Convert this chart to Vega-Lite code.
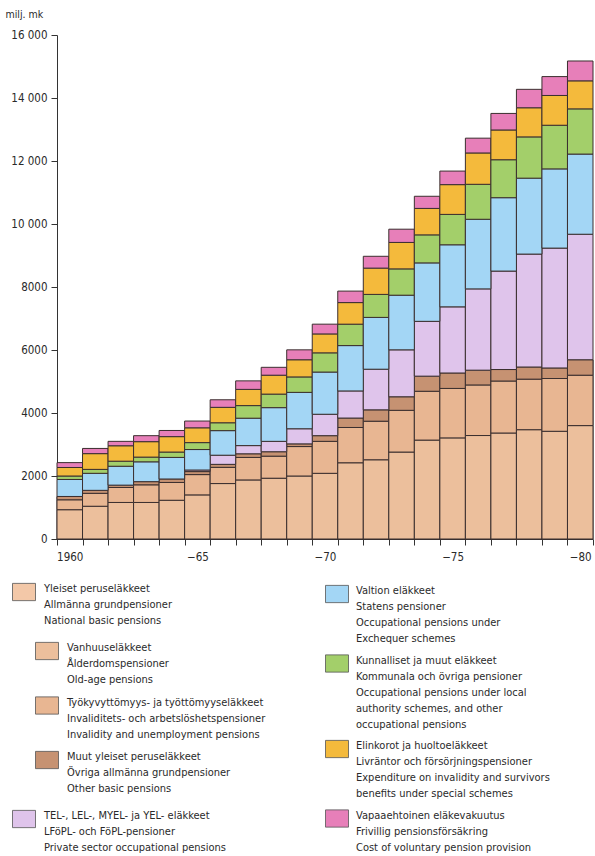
{
  "$schema": "https://vega.github.io/schema/vega-lite/v6.json",
  "width": 536,
  "height": 504,
  "autosize": {"type": "none"},
  "padding": {"left": 57, "top": 35, "right": 2, "bottom": 317},
  "background": "white",
  "config": {
    "font": "DejaVu Sans Condensed, sans-serif",
    "view": {"stroke": null},
    "style": {"guide-label": {"lineHeight": 16}},
    "legend": {
      "title": null,
      "padding": 0,
      "symbolType": "M-1,-0.75H1V0.75H-1Z",
      "symbolSize": 529,
      "symbolStrokeColor": "#555",
      "symbolStrokeWidth": 0.8,
      "symbolOpacity": 1,
      "labelFont": "DejaVu Sans Condensed, sans-serif",
      "labelFontSize": 11,
      "labelColor": "#2a2a2a",
      "labelLimit": 400,
      "labelOffset": 8,
      "labelBaseline": "alphabetic",
      "rowPadding": 8.5
    }
  },
  "data": {"values": [
    {"y":1960,"c":"a","v":930},{"y":1960,"c":"b","v":315},{"y":1960,"c":"c","v":105},{"y":1960,"c":"e","v":540},{"y":1960,"c":"f","v":110},{"y":1960,"c":"g","v":270},{"y":1960,"c":"h","v":155},
    {"y":1961,"c":"a","v":1040},{"y":1961,"c":"b","v":410},{"y":1961,"c":"c","v":95},{"y":1961,"c":"e","v":540},{"y":1961,"c":"f","v":125},{"y":1961,"c":"g","v":500},{"y":1961,"c":"h","v":165},
    {"y":1962,"c":"a","v":1160},{"y":1962,"c":"b","v":475},{"y":1962,"c":"c","v":75},{"y":1962,"c":"e","v":600},{"y":1962,"c":"f","v":160},{"y":1962,"c":"g","v":490},{"y":1962,"c":"h","v":140},
    {"y":1963,"c":"a","v":1160},{"y":1963,"c":"b","v":560},{"y":1963,"c":"c","v":100},{"y":1963,"c":"e","v":630},{"y":1963,"c":"f","v":150},{"y":1963,"c":"g","v":490},{"y":1963,"c":"h","v":190},
    {"y":1964,"c":"a","v":1230},{"y":1964,"c":"b","v":565},{"y":1964,"c":"c","v":110},{"y":1964,"c":"e","v":685},{"y":1964,"c":"f","v":170},{"y":1964,"c":"g","v":490},{"y":1964,"c":"h","v":195},
    {"y":1965,"c":"a","v":1400},{"y":1965,"c":"b","v":645},{"y":1965,"c":"c","v":95},{"y":1965,"c":"d","v":50},{"y":1965,"c":"e","v":650},{"y":1965,"c":"f","v":220},{"y":1965,"c":"g","v":470},{"y":1965,"c":"h","v":215},
    {"y":1966,"c":"a","v":1760},{"y":1966,"c":"b","v":515},{"y":1966,"c":"c","v":95},{"y":1966,"c":"d","v":290},{"y":1966,"c":"e","v":780},{"y":1966,"c":"f","v":250},{"y":1966,"c":"g","v":490},{"y":1966,"c":"h","v":240},
    {"y":1967,"c":"a","v":1875},{"y":1967,"c":"b","v":715},{"y":1967,"c":"c","v":115},{"y":1967,"c":"d","v":260},{"y":1967,"c":"e","v":870},{"y":1967,"c":"f","v":400},{"y":1967,"c":"g","v":515},{"y":1967,"c":"h","v":270},
    {"y":1968,"c":"a","v":1930},{"y":1968,"c":"b","v":700},{"y":1968,"c":"c","v":140},{"y":1968,"c":"d","v":330},{"y":1968,"c":"e","v":1070},{"y":1968,"c":"f","v":430},{"y":1968,"c":"g","v":600},{"y":1968,"c":"h","v":250},
    {"y":1969,"c":"a","v":2000},{"y":1969,"c":"b","v":935},{"y":1969,"c":"c","v":85},{"y":1969,"c":"d","v":480},{"y":1969,"c":"e","v":1155},{"y":1969,"c":"f","v":490},{"y":1969,"c":"g","v":545},{"y":1969,"c":"h","v":315},
    {"y":1970,"c":"a","v":2085},{"y":1970,"c":"b","v":1015},{"y":1970,"c":"c","v":180},{"y":1970,"c":"d","v":680},{"y":1970,"c":"e","v":1340},{"y":1970,"c":"f","v":610},{"y":1970,"c":"g","v":600},{"y":1970,"c":"h","v":310},
    {"y":1971,"c":"a","v":2420},{"y":1971,"c":"b","v":1120},{"y":1971,"c":"c","v":300},{"y":1971,"c":"d","v":860},{"y":1971,"c":"e","v":1440},{"y":1971,"c":"f","v":680},{"y":1971,"c":"g","v":685},{"y":1971,"c":"h","v":365},
    {"y":1972,"c":"a","v":2515},{"y":1972,"c":"b","v":1225},{"y":1972,"c":"c","v":360},{"y":1972,"c":"d","v":1290},{"y":1972,"c":"e","v":1645},{"y":1972,"c":"f","v":730},{"y":1972,"c":"g","v":835},{"y":1972,"c":"h","v":375},
    {"y":1973,"c":"a","v":2760},{"y":1973,"c":"b","v":1325},{"y":1973,"c":"c","v":430},{"y":1973,"c":"d","v":1490},{"y":1973,"c":"e","v":1735},{"y":1973,"c":"f","v":835},{"y":1973,"c":"g","v":840},{"y":1973,"c":"h","v":420},
    {"y":1974,"c":"a","v":3140},{"y":1974,"c":"b","v":1550},{"y":1974,"c":"c","v":480},{"y":1974,"c":"d","v":1740},{"y":1974,"c":"e","v":1855},{"y":1974,"c":"f","v":890},{"y":1974,"c":"g","v":840},{"y":1974,"c":"h","v":385},
    {"y":1975,"c":"a","v":3210},{"y":1975,"c":"b","v":1570},{"y":1975,"c":"c","v":490},{"y":1975,"c":"d","v":2100},{"y":1975,"c":"e","v":1970},{"y":1975,"c":"f","v":965},{"y":1975,"c":"g","v":945},{"y":1975,"c":"h","v":430},
    {"y":1976,"c":"a","v":3285},{"y":1976,"c":"b","v":1605},{"y":1976,"c":"c","v":470},{"y":1976,"c":"d","v":2580},{"y":1976,"c":"e","v":2210},{"y":1976,"c":"f","v":1110},{"y":1976,"c":"g","v":995},{"y":1976,"c":"h","v":470},
    {"y":1977,"c":"a","v":3365},{"y":1977,"c":"b","v":1650},{"y":1977,"c":"c","v":365},{"y":1977,"c":"d","v":3125},{"y":1977,"c":"e","v":2330},{"y":1977,"c":"f","v":1205},{"y":1977,"c":"g","v":945},{"y":1977,"c":"h","v":525},
    {"y":1978,"c":"a","v":3470},{"y":1978,"c":"b","v":1605},{"y":1978,"c":"c","v":385},{"y":1978,"c":"d","v":3585},{"y":1978,"c":"e","v":2410},{"y":1978,"c":"f","v":1310},{"y":1978,"c":"g","v":925},{"y":1978,"c":"h","v":585},
    {"y":1979,"c":"a","v":3420},{"y":1979,"c":"b","v":1675},{"y":1979,"c":"c","v":335},{"y":1979,"c":"d","v":3805},{"y":1979,"c":"e","v":2515},{"y":1979,"c":"f","v":1385},{"y":1979,"c":"g","v":945},{"y":1979,"c":"h","v":600},
    {"y":1980,"c":"a","v":3600},{"y":1980,"c":"b","v":1600},{"y":1980,"c":"c","v":490},{"y":1980,"c":"d","v":3985},{"y":1980,"c":"e","v":2545},{"y":1980,"c":"f","v":1435},{"y":1980,"c":"g","v":890},{"y":1980,"c":"h","v":630}
  ]},
  "transform": [
    {"stack": "v", "groupby": ["y"], "sort": [{"field": "c", "order": "ascending"}], "as": ["v0", "v1"]}
  ],
  "encoding": {
    "x": {
      "field": "y", "type": "ordinal",
      "scale": {"paddingInner": 0, "paddingOuter": 0},
      "axis": {
        "title": null,
        "tickBand": "extent",
        "tickSize": 6,
        "labelAngle": 0,
        "labelPadding": 6,
        "labelFontSize": 11.5,
        "labelColor": "#2a2a2a",
        "labelOverlap": false,
        "labelExpr": "datum.value == 1960 ? '1960' : (datum.value % 5 == 0 ? '\u2212' + (datum.value - 1900) : '')",
        "domainColor": "#333",
        "tickColor": "#333"
      }
    },
    "y": {
      "field": "v0", "type": "quantitative",
      "scale": {"domain": [0, 16000], "nice": false},
      "axis": {
        "title": "milj. mk",
        "titleAngle": 0,
        "titleX": -52,
        "titleY": -21,
        "titleAlign": "left",
        "titleBaseline": "middle",
        "titleFontWeight": "normal",
        "titleFontSize": 10.5,
        "titleColor": "#2a2a2a",
        "values": [0, 2000, 4000, 6000, 8000, 10000, 12000, 14000, 16000],
        "grid": false,
        "tickSize": 6,
        "labelPadding": 4,
        "labelFontSize": 11.5,
        "labelColor": "#2a2a2a",
        "labelExpr": "datum.value >= 10000 ? replace(format(datum.value, ','), ',', ' ') : format(datum.value, 'd')",
        "domainColor": "#333",
        "tickColor": "#333"
      }
    },
    "y2": {"field": "v1"}
  },
  "layer": [
    {
      "transform": [{"filter": "indexof(['a','b','c'], datum.c) >= 0"}],
      "mark": {"type": "bar", "stroke": "#3b2f2f", "strokeWidth": 1},
      "encoding": {
        "fill": {
          "datum": "z", "type": "nominal",
          "scale": {"domain": ["z"], "range": ["#f3c8a8"]},
          "legend": {
            "orient": "none", "legendX": -45, "legendY": 545,
            "labelExpr": "['Yleiset peruseläkkeet','Allmänna grundpensioner','National basic pensions']"
          }
        }
      }
    },
    {
      "transform": [{"filter": "indexof(['a','b','c'], datum.c) >= 0"}],
      "mark": {"type": "bar", "stroke": "#3b2f2f", "strokeWidth": 1},
      "encoding": {
        "fill": {
          "field": "c", "type": "nominal",
          "scale": {"domain": ["a", "b", "c"], "range": ["#ecbf9c", "#e8b692", "#c69272"]},
          "legend": {
            "orient": "none", "legendX": -22, "legendY": 604,
            "labelExpr": "datum.label == 'a' ? ['Vanhuuseläkkeet','Ålderdomspensioner','Old-age pensions'] : datum.label == 'b' ? ['Työkyvyttömyys- ja työttömyyseläkkeet','Invaliditets- och arbetslöshetspensioner','Invalidity and unemployment pensions'] : ['Muut yleiset peruseläkkeet','Övriga allmänna grundpensioner','Other basic pensions']"
          }
        }
      }
    },
    {
      "transform": [{"filter": "datum.c == 'd'"}],
      "mark": {"type": "bar", "stroke": "#3b2f2f", "strokeWidth": 1},
      "encoding": {
        "fill": {
          "field": "c", "type": "nominal",
          "scale": {"domain": ["d"], "range": ["#dfc4eb"]},
          "legend": {
            "orient": "none", "legendX": -45, "legendY": 772,
            "labelExpr": "['TEL-, LEL-, MYEL- ja YEL- eläkkeet','LFöPL- och FöPL-pensioner','Private sector occupational pensions']"
          }
        }
      }
    },
    {
      "transform": [{"filter": "indexof(['e','f','g','h'], datum.c) >= 0"}],
      "mark": {"type": "bar", "stroke": "#3b2f2f", "strokeWidth": 1},
      "encoding": {
        "fill": {
          "field": "c", "type": "nominal",
          "scale": {"domain": ["e", "f", "g", "h"], "range": ["#a3d6f5", "#a3cf6a", "#f4ba3c", "#e77fb9"]},
          "legend": {
            "orient": "none", "legendX": 268, "legendY": 547,
            "labelOffset": 7,
            "rowPadding": 7.5,
            "labelExpr": "datum.label == 'e' ? ['Valtion eläkkeet','Statens pensioner','Occupational pensions under','Exchequer schemes'] : datum.label == 'f' ? ['Kunnalliset ja muut eläkkeet','Kommunala och övriga pensioner','Occupational pensions under local','authority schemes, and other','occupational pensions'] : datum.label == 'g' ? ['Elinkorot ja huoltoeläkkeet','Livräntor och försörjningspensioner','Expenditure on invalidity and survivors','benefits under special schemes'] : ['Vapaaehtoinen eläkevakuutus','Frivillig pensionsförsäkring','Cost of voluntary pension provision']"
          }
        }
      }
    }
  ],
  "resolve": {"scale": {"fill": "independent"}}
}
